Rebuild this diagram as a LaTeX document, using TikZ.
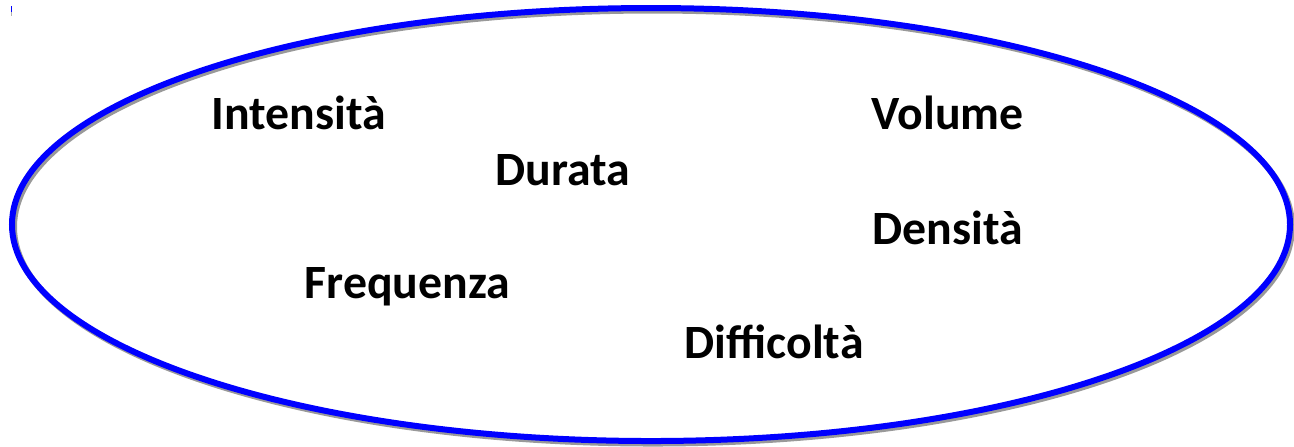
\documentclass[tikz,border=0pt]{standalone}
\usepackage{fontspec}
\setmainfont{Carlito}

\tikzset{
  ring/.style={draw=blue, line width=0.06cm},
  ringshadow/.style={draw=black!40, line width=0.06cm},
  word/.style={anchor=base west, inner sep=0pt, font=\fontsize{13.6}{16}\selectfont\bfseries},
}

\begin{document}
\begin{tikzpicture}
    \useasboundingbox (0, 0) rectangle (12.94, -4.46);

    % shadow, then the ring
    \draw[ringshadow] (6.53, -2.27) ellipse [x radius=6.39cm, y radius=2.165cm];
    \draw[ring] (6.51, -2.245) ellipse [x radius=6.39cm, y radius=2.165cm];

    % stray tick in the corner
    \draw[black!30, line width=0.01cm] (0.12, -0.10) -- (0.12, -0.16);
    \draw[blue, line width=0.01cm] (0.115, -0.06) -- (0.115, -0.12);

    \node[word] (intensita) at (2.11, -1.29) {Intensità};
    \node[word] (volume) at (8.71, -1.29) {Volume};
    \node[word] (durata) at (4.95, -1.855) {Durata};
    \node[word] (densita) at (8.72, -2.44) {Densità};
    \node[word] (frequenza) at (3.04, -2.98) {Frequenza};
    \node[word] (difficolta) at (6.84, -3.58) {Difficoltà};

\end{tikzpicture}
\end{document}
